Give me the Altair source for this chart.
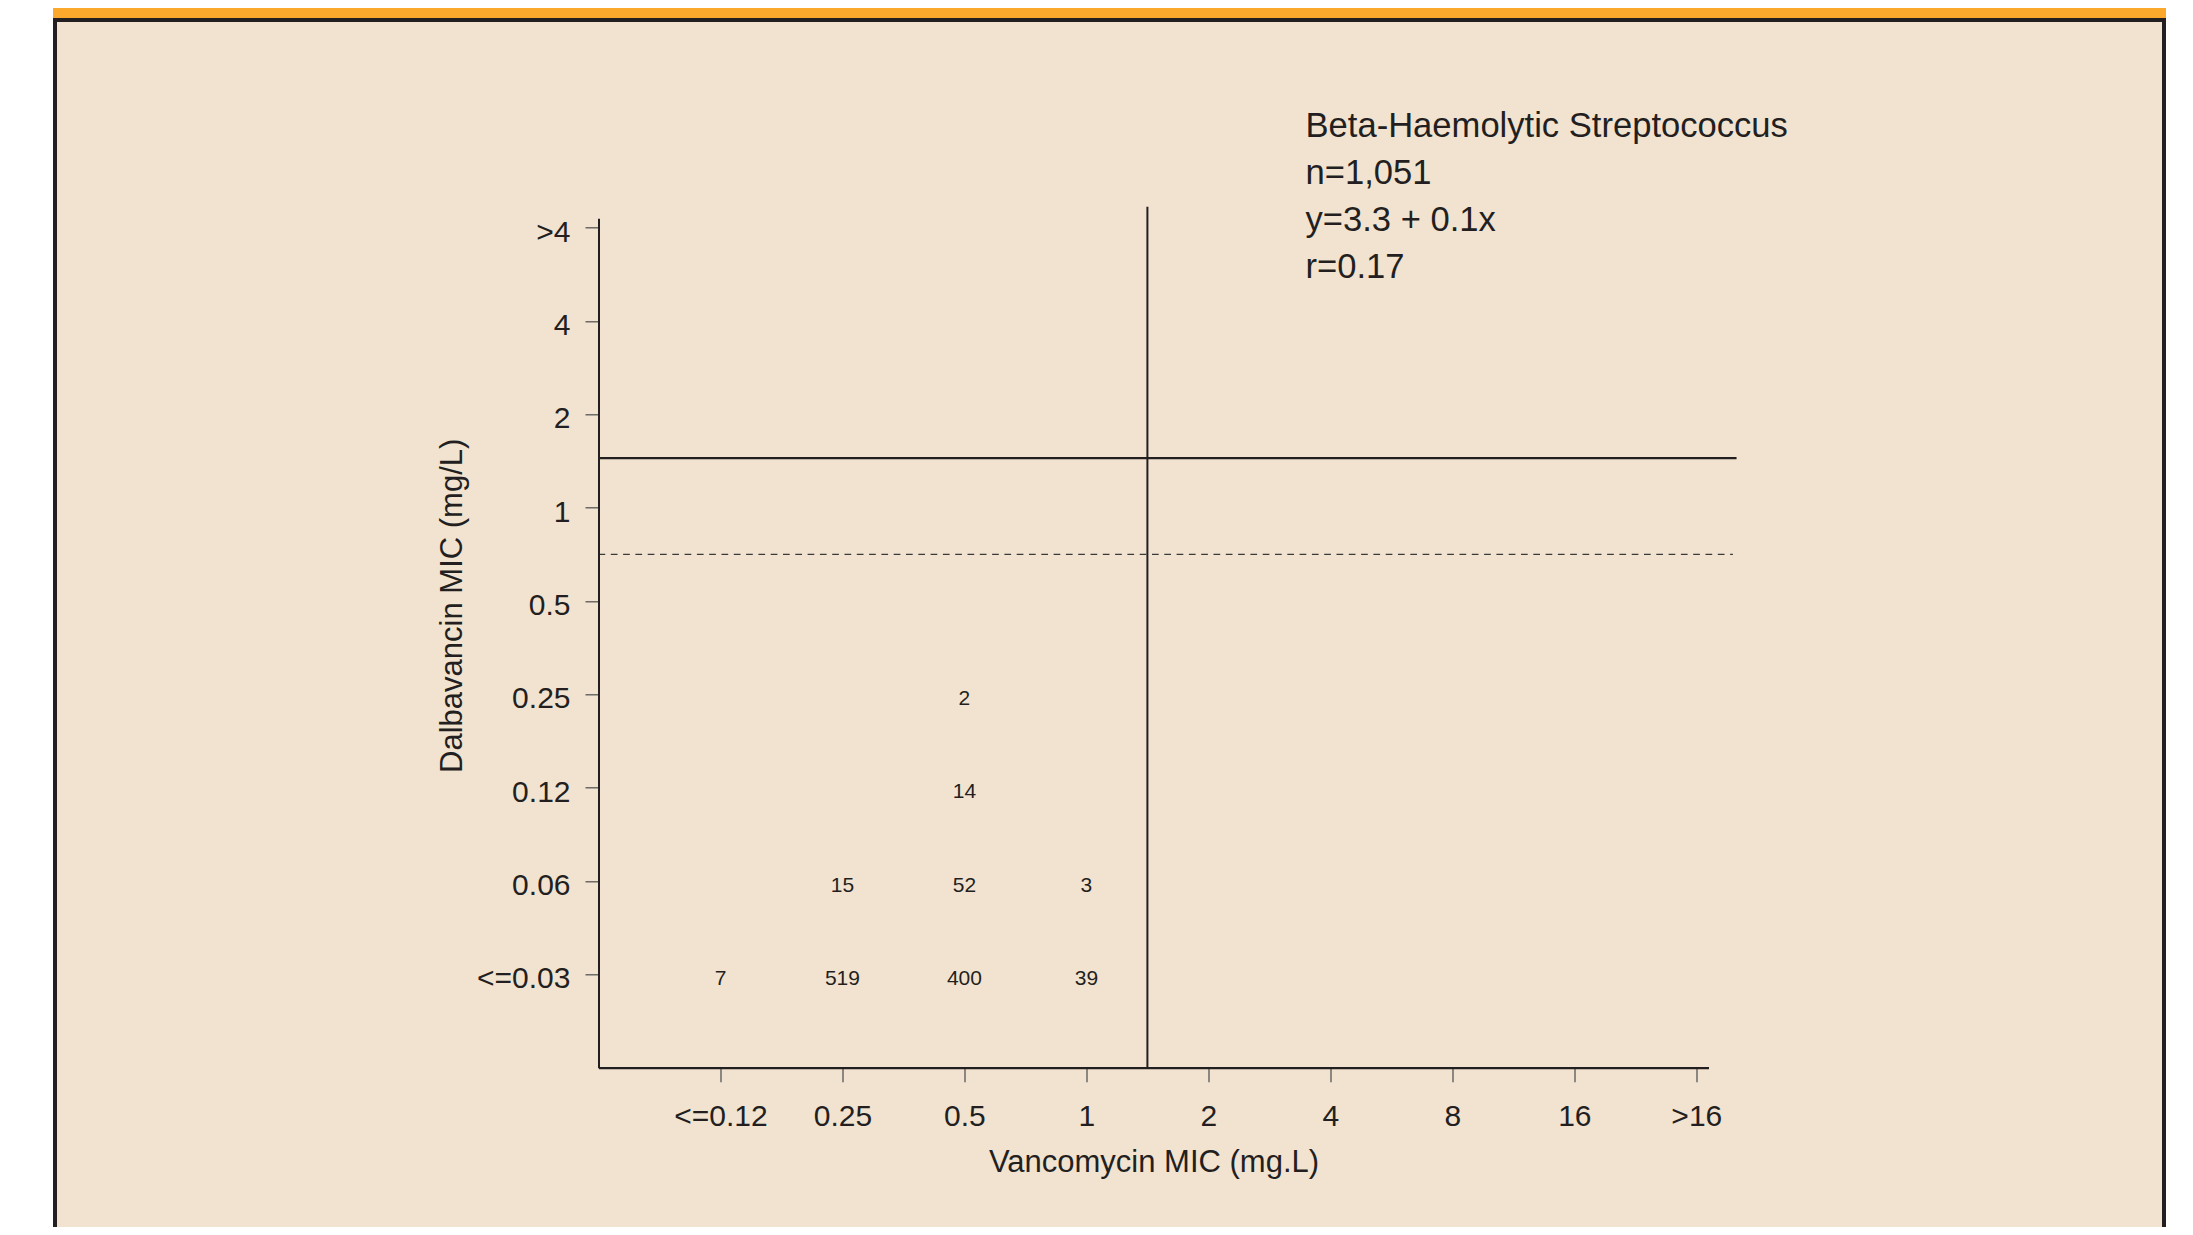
import json
import altair as alt
import pandas as pd

# ---------------- data ----------------
vanc_labels = ["<=0.12", "0.25", "0.5", "1", "2", "4", "8", "16", ">16"]
dalba_labels = ["<=0.03", "0.06", "0.12", "0.25", "0.5", "1", "2", "4", ">4"]

cell_vanc = ["<=0.12", "0.25", "0.5", "1", "0.25", "0.5", "1", "0.5", "0.5"]
cell_dalba = ["<=0.03", "<=0.03", "<=0.03", "<=0.03", "0.06", "0.06", "0.06", "0.12", "0.25"]
cell_count = [7, 519, 400, 39, 15, 52, 3, 14, 2]

annotation_lines = ["Beta-Haemolytic Streptococcus", "n=1,051", "y=3.3 + 0.1x", "r=0.17"]
x_title = "Vancomycin MIC (mg.L)"
y_title = "Dalbavancin MIC (mg/L)"

# breakpoint lines, in axis-category index units
vanc_bp_x = [3.5]
vanc_bp_y_range = [-1, 8.224]
dalba_solid_y = [5.53]
dalba_solid_x_range = [-1, 8.33]
dalba_dashed_y = [4.5]
dalba_dashed_x_range = [-1, 8.30]

cells = pd.DataFrame({"vanc": cell_vanc, "dalba": cell_dalba, "count": cell_count})
cells["xi"] = cells["vanc"].map(vanc_labels.index)
cells["yi"] = cells["dalba"].map(dalba_labels.index)

# ---------------- layout ----------------
W, H = 1110, 849.4
OX, OY = 598.5, 218.3   # page position of plot origin
PAD_L, PAD_T = OX - 8, OY - 8
TOTAL_W, TOTAL_H = 2177, 1219

FONT = "Liberation Sans"
INK = "#231F20"
ORANGE = "#FBA92D"
BEIGE = "#F2E3D1"

xscale = alt.Scale(domain=[-1, 8.1], nice=False, zero=False)
yscale = alt.Scale(domain=[-1, 8.1], nice=False, zero=False)

xaxis = alt.Axis(
    values=list(range(len(vanc_labels))),
    labelExpr=f"{json.dumps(vanc_labels)}[datum.value]",
    title=x_title, grid=False, zindex=1,
    domainColor=INK, domainWidth=2.3,
    tickColor="#555555", tickWidth=1.3, tickSize=14,
    labelFont=FONT, labelFontSize=30, labelColor=INK,
    labelBaseline="alphabetic", labelPadding=44,
    labelFlush=False, labelOverlap=False,
    titleFont=FONT, titleFontSize=31, titleFontWeight="normal", titleColor=INK,
    titleBaseline="alphabetic", titleX=W / 2, titleY=104,
)
yaxis = alt.Axis(
    values=list(range(len(dalba_labels))),
    labelExpr=f"{json.dumps(dalba_labels)}[datum.value]",
    title=y_title, grid=False, zindex=1,
    domainColor=INK, domainWidth=2,
    tickColor="#555555", tickWidth=1.3, tickSize=13.5,
    labelFont=FONT, labelFontSize=30, labelColor=INK,
    labelBaseline="alphabetic", labelPadding=15, labelOffset=13.5,
    labelFlush=False, labelOverlap=False,
    titleFont=FONT, titleFontSize=31, titleFontWeight="normal", titleColor=INK,
    titleAngle=270, titleAlign="center", titleBaseline="alphabetic",
    titleX=-136.8, titleY=387,
)


def X(f):
    return alt.X(f, type="quantitative", scale=xscale, axis=xaxis)


def Y(f):
    return alt.Y(f, type="quantitative", scale=yscale, axis=yaxis)


def frame_rect(x0, x1, y0, y1, color):
    return alt.Chart(alt.Data(values=[{"k": 1}])).mark_rect(color=color).encode(
        x=alt.value(x0 - OX), x2=alt.value(x1 - OX),
        y=alt.value(y0 - OY), y2=alt.value(y1 - OY),
    )


frame_dark = frame_rect(53, 2166, 18, 1240, INK)
frame_beige = frame_rect(57, 2162, 22, 1240, BEIGE)
frame_orange = frame_rect(53, 2166, 0, 18, ORANGE)

vrule = alt.Chart(pd.DataFrame({
    "xi": vanc_bp_x, "yi": [vanc_bp_y_range[0]], "yi2": [vanc_bp_y_range[1]]
})).mark_rule(color=INK, strokeWidth=2).encode(x=X("xi"), y=Y("yi"), y2="yi2")

hrule = alt.Chart(pd.DataFrame({
    "yi": dalba_solid_y, "xi": [dalba_solid_x_range[0]], "xi2": [dalba_solid_x_range[1]]
})).mark_rule(color=INK, strokeWidth=2.2).encode(x=X("xi"), x2="xi2", y=Y("yi"))

drule = alt.Chart(pd.DataFrame({
    "yi": dalba_dashed_y, "xi": [dalba_dashed_x_range[0]], "xi2": [dalba_dashed_x_range[1]]
})).mark_rule(color="#3a3a3a", strokeWidth=1.4, strokeDash=[6.7, 5.6]).encode(
    x=X("xi"), x2="xi2", y=Y("yi"))

counts = alt.Chart(cells).mark_text(
    font=FONT, fontSize=21, color=INK, baseline="alphabetic", dy=10.5
).encode(x=X("xi"), y=Y("yi"), text="count:Q")

annot = alt.Chart(alt.Data(values=[{"t": "\n".join(annotation_lines)}])).mark_text(
    font=FONT, fontSize=34.6, color=INK, align="left", baseline="alphabetic",
    lineBreak="\n", lineHeight=47.2,
).encode(x=alt.value(1305.5 - OX), y=alt.value(136.7 - OY), text="t:N")

chart = alt.layer(
    frame_dark, frame_beige, frame_orange, vrule, hrule, drule, counts, annot
).properties(
    width=W, height=H,
    autosize=alt.AutoSizeParams(type="none"),
    padding={"left": PAD_L, "top": PAD_T,
             "right": TOTAL_W - PAD_L - W, "bottom": TOTAL_H - PAD_T - H},
    background="white",
).configure_view(strokeWidth=0)

chart.save("out.html", embed_options={"renderer": "svg", "actions": False})
